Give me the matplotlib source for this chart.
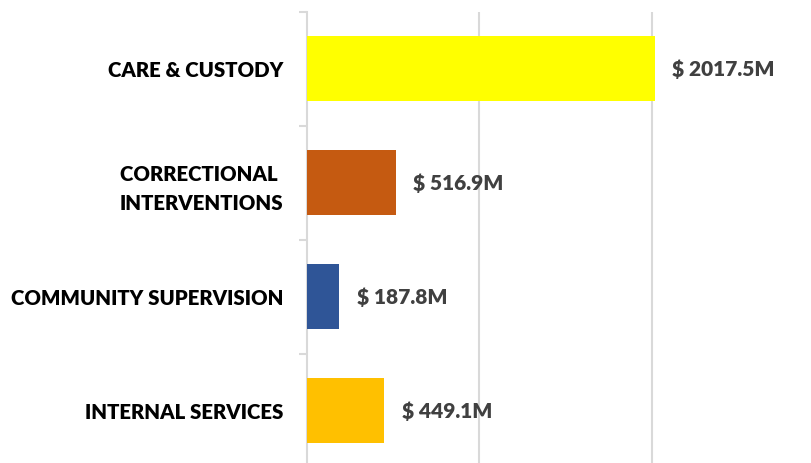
import numpy as np
import matplotlib.pyplot as plt

# spending by program area, in millions of dollars
programs = ["CARE & CUSTODY", "CORRECTIONAL \nINTERVENTIONS",
            "COMMUNITY SUPERVISION", "INTERNAL SERVICES"]
spend = [2017.5, 516.9, 187.8, 449.1]
bar_colors = ["#FFFF00", "#C55A11", "#2F5597", "#FFC000"]

plt.rcParams['font.family'] = ['Lato', 'DejaVu Sans']

fig = plt.figure(figsize=(8.12, 4.63), dpi=100)
ax = fig.add_axes([0.378, -0.0108, 0.607, 0.985])

pos = np.arange(len(programs))
ax.barh(pos, spend, height=0.57, color=bar_colors, zorder=3)

for p, v in zip(pos, spend):
    ax.text(v + 100, p, "$ {:.1f}M".format(v), va="center", ha="left",
            fontsize=15, fontweight="heavy", color="#404040")

ax.set_xlim(0, 2860)
ax.set_ylim(len(programs) - 0.5, -0.5)

# gridlines only, no x labels
ax.set_xticks([1000, 2000])
ax.xaxis.grid(True, color="#D9D9D9", linewidth=1.5, zorder=0)
ax.tick_params(axis="x", length=0, labelbottom=False)

# category boundaries as ticks, names sit between them
ax.set_yticks(np.arange(-0.5, len(programs), 1.0))
ax.set_yticks(pos, minor=True)
ax.set_yticklabels(programs, minor=True, fontsize=14.7, fontweight="heavy",
                   ha="right", multialignment="center", linespacing=1.62)
ax.tick_params(axis="y", which="major", length=6, color="#D9D9D9",
               width=1.5, labelleft=False)
ax.tick_params(axis="y", which="minor", length=0, pad=17)

for s in ["top", "right", "bottom"]:
    ax.spines[s].set_visible(False)
ax.spines["left"].set_color("#D9D9D9")
ax.spines["left"].set_linewidth(1.5)

plt.savefig("out.png", dpi=100)
